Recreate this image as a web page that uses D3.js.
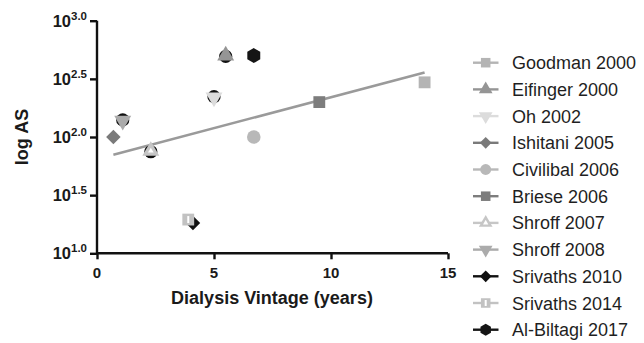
<!DOCTYPE html>
<html>
<head>
<meta charset="utf-8">
<script src="https://cdnjs.cloudflare.com/ajax/libs/d3/7.8.5/d3.min.js"></script>
<style>
  body { margin: 0; background: #fff; }
  svg { font-family: "Liberation Sans", Arial, sans-serif; }
</style>
</head>
<body>
<div id="chart"></div>
<script>
// studies, dialysis vintage (years) and log10 AS
const studies = ["Goodman 2000", "Eifinger 2000", "Oh 2002", "Ishitani 2005", "Civilibal 2006",
  "Briese 2006", "Shroff 2007", "Shroff 2008", "Srivaths 2010", "Srivaths 2014", "Al-Biltagi 2017"];
const vintage = [14.0, 5.5, 5.0, 0.7, 6.7, 9.5, 2.3, 1.1, 4.1, 3.9, 6.7];
const logAS = [2.47, 2.70, 2.34, 2.00, 2.00, 2.30, 1.88, 2.14, 1.26, 1.29, 2.70];
const xTicks = [0, 5, 10, 15];
const yTicks = [1.0, 1.5, 2.0, 2.5, 3.0];

const shapes = ["square", "triUp", "triDown", "diamond", "circle", "square", "triUp", "triDown", "diamond", "square", "hexagon"];
const colors = ["#b4b4b4", "#959595", "#dcdcdc", "#7a7a7a", "#b8b8b8", "#7d7d7d", "#c6c6c6", "#ababab", "#111111", "#c2c2c2", "#151515"];

const width = 644, height = 343;
const svg = d3.select("#chart").append("svg")
  .attr("width", width)
  .attr("height", height);

const x = d3.scaleLinear().domain([0, 15]).range([97, 448]);
const y = d3.scaleLinear().domain([1, 3]).range([253.3, 20.7]);

const hexagon = {
  draw(ctx, size) {
    const r = Math.sqrt(size / (1.5 * Math.sqrt(3)));
    for (let i = 0; i < 6; i++) {
      const a = Math.PI / 6 + i * Math.PI / 3;
      const px = r * Math.cos(a), py = r * Math.sin(a);
      if (i === 0) ctx.moveTo(px, py); else ctx.lineTo(px, py);
    }
    ctx.closePath();
  }
};

function symbolPath(shape, size) {
  const t = {
    square: d3.symbolSquare, triUp: d3.symbolTriangle, triDown: d3.symbolTriangle,
    diamond: d3.symbolSquare, circle: d3.symbolCircle, hexagon: hexagon
  }[shape];
  return d3.symbol().type(t).size(size)();
}
function symbolRotate(shape) {
  if (shape === "triDown") return 180;
  if (shape === "diamond") return 45;
  return 0;
}
const sizes = { square: 140, triUp: 125, triDown: 125, diamond: 105, circle: 145, hexagon: 145 };

// axes
const yAxis = svg.append("g")
  .attr("transform", "translate(97,0)")
  .call(d3.axisLeft(y).tickValues(yTicks).tickSize(7).tickFormat(""));
const xAxis = svg.append("g")
  .attr("transform", "translate(0,253.3)")
  .call(d3.axisBottom(x).tickValues(xTicks).tickSize(6).tickFormat(""));
[yAxis, xAxis].forEach(g => {
  g.select(".domain").attr("stroke", "#111").attr("stroke-width", 2.4);
  g.selectAll(".tick line").attr("stroke", "#111").attr("stroke-width", 2.4);
});
yAxis.select(".domain").attr("d", "M0," + y(1) + "V" + y(3));
xAxis.select(".domain").attr("d", "M" + x(0) + ",0H" + x(15));

// y tick labels 10^n
const yl = svg.append("g").attr("font-weight", "bold").attr("fill", "#1a1a1a");
yTicks.forEach(v => {
  const t = yl.append("text")
    .attr("x", 87)
    .attr("y", y(v) + 6)
    .attr("text-anchor", "end");
  t.append("tspan").attr("font-size", 16.5).text("10");
  t.append("tspan").attr("font-size", 11.5).attr("dy", -7).text(v.toFixed(1));
});

svg.append("g").selectAll("text")
  .data(xTicks)
  .join("text")
  .attr("x", d => x(d))
  .attr("y", 278)
  .attr("text-anchor", "middle")
  .attr("font-size", 15)
  .attr("font-weight", "bold")
  .attr("fill", "#1a1a1a")
  .text(d => d);

svg.append("text")
  .attr("x", 272)
  .attr("y", 304)
  .attr("text-anchor", "middle")
  .attr("font-size", 18)
  .attr("font-weight", "bold")
  .attr("fill", "#1a1a1a")
  .text("Dialysis Vintage (years)");

svg.append("text")
  .attr("transform", "translate(28,137) rotate(-90)")
  .attr("text-anchor", "middle")
  .attr("font-size", 18)
  .attr("font-weight", "bold")
  .attr("fill", "#1a1a1a")
  .text("log AS");

// linear regression over all studies
const mx = d3.mean(vintage), my = d3.mean(logAS);
const slope = d3.sum(vintage, (v, i) => (v - mx) * (logAS[i] - my)) / d3.sum(vintage, v => (v - mx) * (v - mx));
const icpt = my - slope * mx;
const [x0, x1] = d3.extent(vintage);
svg.append("line")
  .attr("x1", x(x0)).attr("y1", y(icpt + slope * x0))
  .attr("x2", x(x1)).attr("y2", y(icpt + slope * x1))
  .attr("stroke", "#9a9a9a")
  .attr("stroke-width", 2.6);

// points
const pts = svg.append("g");
studies.forEach((s, i) => {
  const g = pts.append("g")
    .attr("transform", "translate(" + x(vintage[i]) + "," + y(logAS[i]) + ")");
  if (shapes[i].startsWith("tri")) {
    g.append("circle").attr("r", 6.6).attr("fill", "#111")
      .attr("cy", shapes[i] === "triUp" ? 0.8 : -0.8);
  }
  g.append("path")
    .attr("d", symbolPath(shapes[i], sizes[shapes[i]]))
    .attr("transform", "rotate(" + symbolRotate(shapes[i]) + ")")
    .attr("fill", colors[i]);
  if (s === "Shroff 2007") {
    g.append("path").attr("d", d3.symbol().type(d3.symbolTriangle).size(14)()).attr("fill", "#fff");
  }
  if (s === "Srivaths 2014") {
    g.append("rect").attr("x", -1).attr("y", -3.5).attr("width", 2).attr("height", 7).attr("fill", "#fff");
  }
});

// legend
const legend = svg.append("g");
studies.forEach((s, i) => {
  const ly = 62.7 + i * 26.7;
  const g = legend.append("g").attr("transform", "translate(0," + ly + ")");
  g.append("line")
    .attr("x1", 473).attr("x2", 498.5)
    .attr("stroke", colors[i]).attr("stroke-width", 2.4);
  const m = g.append("g").attr("transform", "translate(485.7,0)");
  m.append("path")
    .attr("d", symbolPath(shapes[i], sizes[shapes[i]] * 0.65))
    .attr("transform", "rotate(" + symbolRotate(shapes[i]) + ")")
    .attr("fill", colors[i]);
  if (s === "Shroff 2007") {
    m.append("path").attr("d", d3.symbol().type(d3.symbolTriangle).size(12)()).attr("fill", "#fff");
  }
  if (s === "Srivaths 2014") {
    m.append("rect").attr("x", -1).attr("y", -3).attr("width", 2).attr("height", 6).attr("fill", "#fff");
  }
  g.append("text")
    .attr("x", 512)
    .attr("y", 6.5)
    .attr("font-size", 18)
    .attr("fill", "#1f1f1f")
    .text(s);
});
</script>
</body>
</html>
